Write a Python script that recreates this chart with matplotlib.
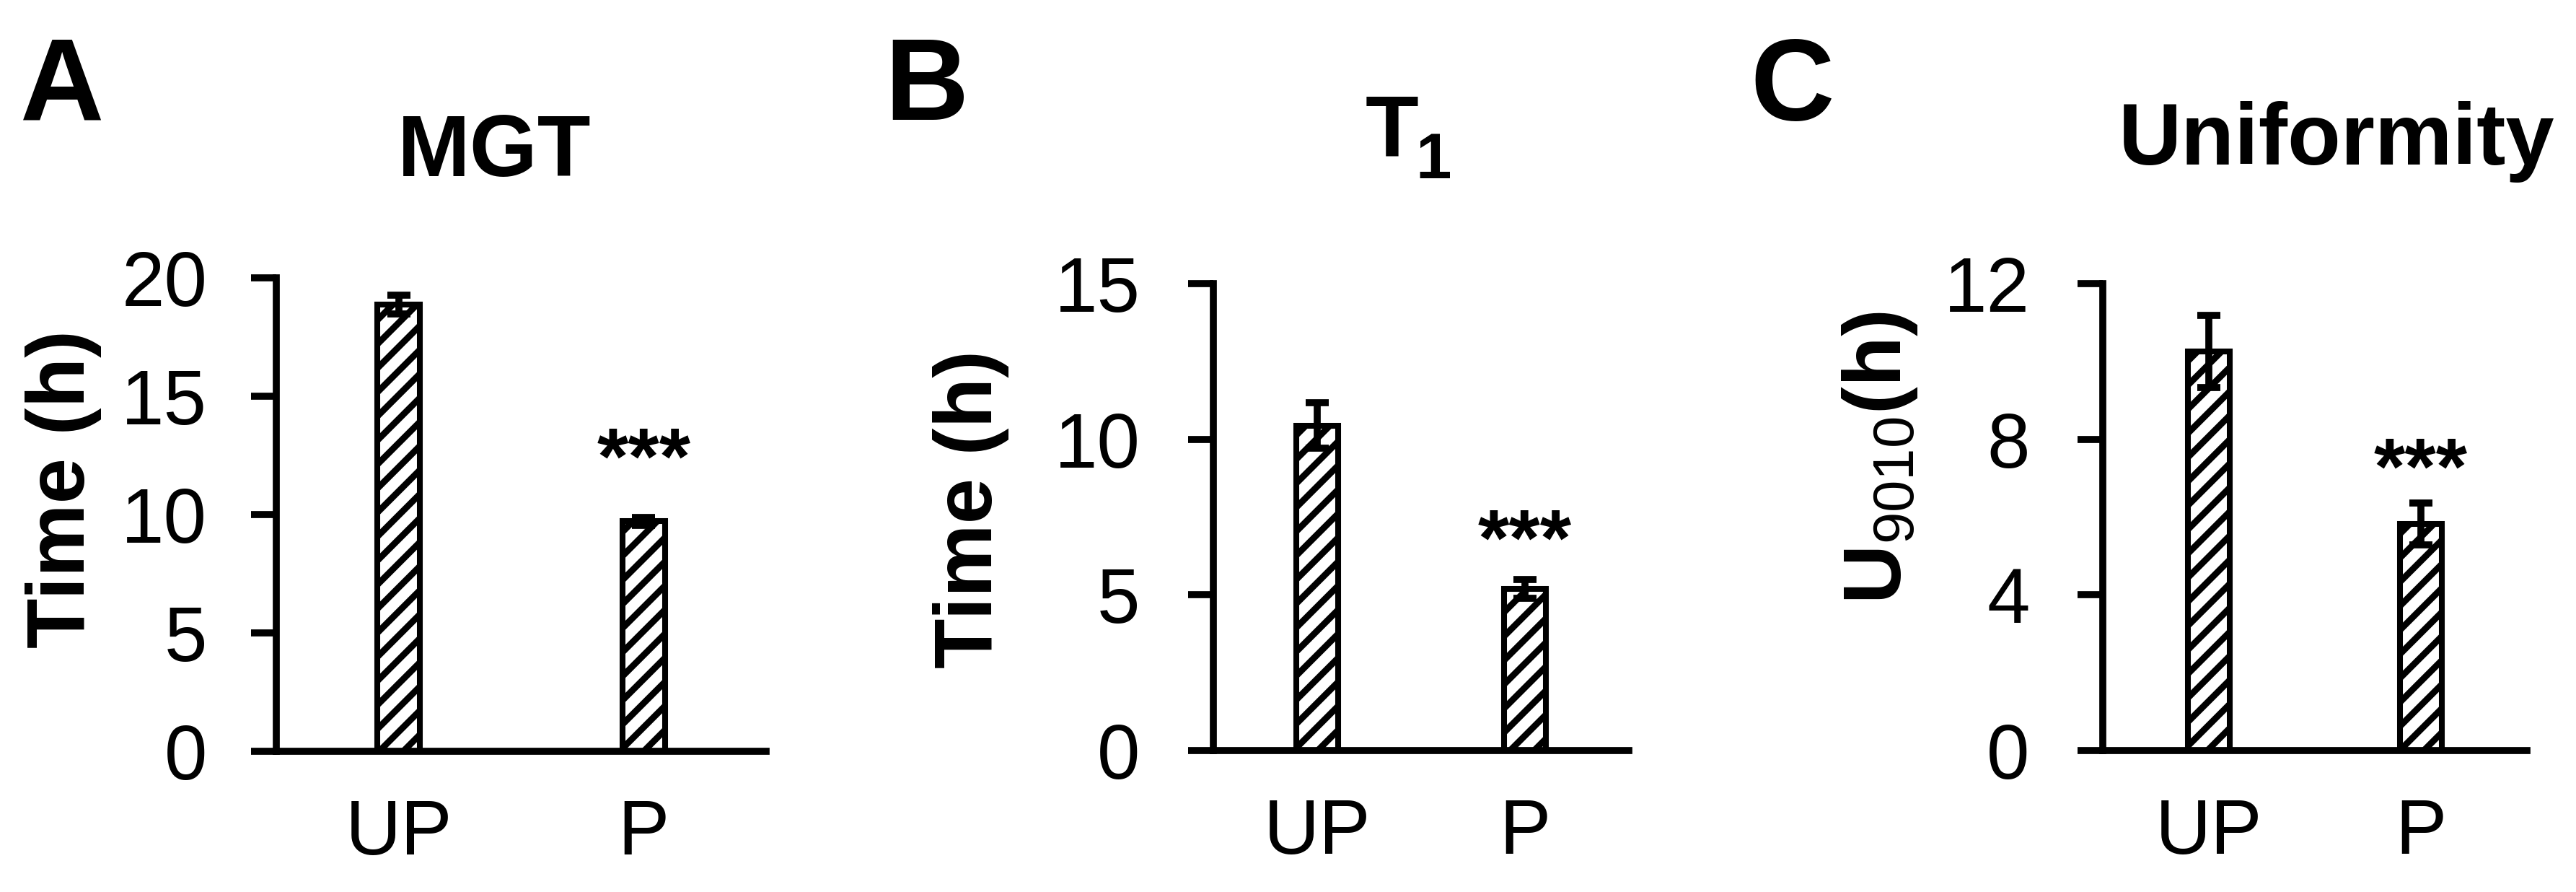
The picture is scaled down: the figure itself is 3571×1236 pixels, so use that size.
import matplotlib
matplotlib.use("Agg")
import matplotlib.pyplot as plt

# ---------------- data ----------------
categories = ["UP", "P"]
mgt_mean = [18.87, 9.72]
mgt_err = [0.40, 0.17]
t1_mean = [10.44, 5.20]
t1_err = [0.73, 0.30]
u_mean = [10.26, 5.82]
u_err = [0.93, 0.54]
mgt_ticks = [0, 5, 10, 15, 20]
t1_ticks = [0, 5, 10, 15]
u_ticks = [0, 4, 8, 12]
sig_marks = ["", "***"]
sig_heights = [13.2, 7.4, 7.75]   # visual centre of the *** marks (data units)
panel_letters = ["A", "B", "C"]

# ---------------- style ----------------
plt.rcParams["font.family"] = ["Liberation Sans", "DejaVu Sans"]
plt.rcParams["mathtext.fontset"] = "custom"
plt.rcParams["mathtext.rm"] = "Liberation Sans"
plt.rcParams["mathtext.bf"] = "Liberation Sans:bold"
plt.rcParams["mathtext.it"] = "Liberation Sans:italic"
plt.rcParams["hatch.linewidth"] = 3.2
plt.rcParams["hatch.color"] = "black"

W, H, DPI = 3571, 1236, 200
fig = plt.figure(figsize=(W / DPI, H / DPI), dpi=DPI)

def fx(x):
    return x / W

def fy(y):
    return 1 - y / H

def make_axes(left, right, top, bottom):
    return fig.add_axes([fx(left), fy(bottom), fx(right) - fx(left), fy(top) - fy(bottom)])

LW = 3.5
TICK_FS = 38.5

def draw_panel(ax, means, errs, ticks, bar_w, ypad, sig_y):
    x = list(range(len(categories)))
    ax.bar(x, means, width=bar_w, color="white", edgecolor="black",
           linewidth=2.9, hatch="//", zorder=2)
    ax.errorbar(x, means, yerr=errs, fmt="none", ecolor="black",
                elinewidth=LW, capsize=5.9, capthick=LW, zorder=3)
    ax.set_xlim(-0.5, 1.5)
    ax.set_ylim(ticks[0], ticks[-1])
    ax.set_yticks(ticks)
    ax.set_xticks(x)
    ax.set_xticklabels(categories)
    for s in ("top", "right"):
        ax.spines[s].set_visible(False)
    for s in ("left", "bottom"):
        ax.spines[s].set_linewidth(LW)
    ax.tick_params(axis="y", length=12.5, width=LW, pad=ypad, labelsize=TICK_FS)
    ax.tick_params(axis="x", length=0, pad=23.5, labelsize=TICK_FS)
    for xi, m in zip(x, sig_marks):
        if m:
            ax.annotate(m, xy=(xi, sig_y), xytext=(0, -22.5), textcoords="offset points",
                        ha="center", va="baseline", fontsize=40, fontweight="bold")

# Panel A
axA = make_axes(383, 1062, 385, 1041)
draw_panel(axA, mgt_mean, mgt_err, mgt_ticks, 0.174, 22, sig_heights[0])
# Panel B
axB = make_axes(1682, 2258, 393, 1040)
draw_panel(axB, t1_mean, t1_err, t1_ticks, 0.198, 24, sig_heights[1])
# Panel C
axC = make_axes(2915, 3503, 393, 1040)
draw_panel(axC, u_mean, u_err, u_ticks, 0.194, 24, sig_heights[2])

# Panel letters
for letter, xc in zip(panel_letters, [86, 1284, 2485]):
    fig.text(fx(xc), fy(166), letter, ha="center", va="baseline",
             fontsize=58, fontweight="bold")

# Titles
fig.text(fx(685), fy(244), "MGT", ha="center", va="baseline", fontsize=43.5, fontweight="bold")
fig.text(fx(1893), fy(216), "T", ha="left", va="baseline", fontsize=43.5, fontweight="bold")
fig.text(fx(1962), fy(247), "1", ha="left", va="baseline", fontsize=32, fontweight="bold")
fig.text(fx(3239), fy(228), "Uniformity", ha="center", va="baseline", fontsize=43.5, fontweight="bold")

# Y labels
fig.text(fx(88), fy(677), "Time (h)", rotation=90, ha="center", va="center",
         fontsize=41, fontweight="bold")
fig.text(fx(1346), fy(706), "Time (h)", rotation=90, ha="center", va="center",
         fontsize=41, fontweight="bold")
fig.text(fx(2606), fy(634), r"$\mathbf{U}_{\mathrm{9010}}\mathbf{(h)}$", rotation=90,
         ha="center", va="center", fontsize=41)

fig.savefig("out.png", dpi=DPI, facecolor="white")
